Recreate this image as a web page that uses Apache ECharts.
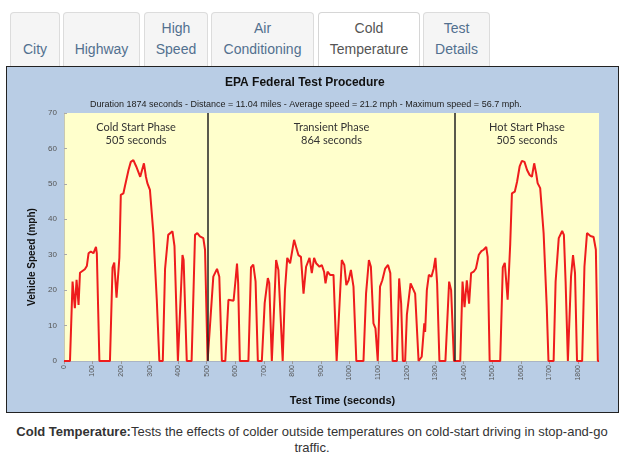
<!DOCTYPE html>
<html>
<head>
<meta charset="utf-8">
<script src="https://cdn.jsdelivr.net/npm/echarts@6/dist/echarts.min.js"></script>
<style>
  body { margin: 0; background: #fff; font-family: "Liberation Sans", Arial, sans-serif; }
  .page { position: relative; width: 624px; height: 462px; overflow: hidden; }
  .tab {
    position: absolute; top: 12px; height: 54px; box-sizing: border-box;
    border: 1px solid #dcdcdc; border-bottom: none; border-radius: 4px 4px 0 0;
    background: #f5f5f5; color: #52708f; font-size: 14px; line-height: 21px;
    text-align: center; display: flex; align-items: flex-end; justify-content: center;
    padding-bottom: 6px;
  }
  .tab.active { background: #fff; color: #555; border-color: #d6d6d6; }
  .frame {
    position: absolute; left: 6px; top: 66px; width: 611px; height: 345px;
    border: 1px solid #222;
  }
  .echarts { width: 611px; height: 345px; }
  .caption {
    position: absolute; left: 10px; top: 424px; width: 604px;
    text-align: center; font-size: 13px; line-height: 16px; color: #333;
  }
</style>
</head>
<body>
<div class="page">
  <div class="tab" style="left:10px;width:50px">City</div>
  <div class="tab" style="left:63px;width:77px">Highway</div>
  <div class="tab" style="left:144px;width:64px">High<br>Speed</div>
  <div class="tab" style="left:211px;width:103px">Air<br>Conditioning</div>
  <div class="tab active" style="left:318px;width:102px">Cold<br>Temperature</div>
  <div class="tab" style="left:423px;width:67px">Test<br>Details</div>
  <div class="frame"><div id="myChart" class="echarts"></div></div>
  <div class="caption"><b>Cold Temperature:</b>Tests the effects of colder outside temperatures on cold-start driving in stop-and-go traffic.</div>
</div>
<script>
  // [seconds, mph]
  var coldStart = [[0,0],[21,0],[30,22.4],[38,14.9],[44,22.9],[51,15.8],[56,24.9],[61,25.4],[73,25.9],[80,26.8],
    [86,30.4],[94,30.9],[103,30.4],[112,32.2],[115,30.4],[124,0],[161,0],[170,26.4],[176,27.8],[184,17.9],
    [194,29.2],[199,46.9],[208,47.3],[213,49.2],[226,53.9],[234,56.2],[243,56.7],[253,54.9],[258,53.9],[267,52],
    [272,52.5],[280,55.8],[287,52],[292,50.2],[301,48.3],[313,36.1],[325,17.3],[334,0],[346,0],[354,26],
    [365,35.6],[380,36.6],[387,32.4],[399,0],[403,0],[415,29.9],[419,28.5],[430,0],[447,0],[459,35.6],
    [467,36.1],[476,35.2],[488,34.7],[494,31.4],[503,0],[505,0]];
  var transient = [[523,23.8],[536,26],[544,23.8],[553,0],[565,0],[576,17.3],[582,17.3],[594,17],[601,23],[606,27.5],
    [610,22],[616,0],[646,0],[655,26.4],[663,27.2],[671,22.5],[679,0],[693,0],[703,16.4],[714,23.4],
    [719,22],[728,0],[743,28.5],[751,25.7],[766,0],[774,20],[782,29.1],[792,27.6],[798,27.6],[806,34.2],
    [813,32.2],[821,29.9],[830,29.4],[839,19],[848,26.6],[860,29.1],[868,24.8],[876,29.1],[883,27.6],[888,28.1],
    [895,26.6],[903,27.1],[911,25.2],[916,21.9],[923,25.2],[932,24.3],[939,24.8],[944,24.3],[955,0],[961,0],
    [973,28.5],[982,27.1],[989,21.4],[997,22.8],[1005,25.7],[1014,21],[1024,0],[1049,0],[1058,19],[1068,28.5],
    [1075,26.6],[1084,10.6],[1091,9.2],[1099,0],[1107,21],[1115,22.8],[1125,26.1],[1135,27.1],[1143,24.8],[1151,0],
    [1166,0],[1174,23.3],[1181,16.2],[1187,0],[1195,0],[1201,13],[1207,13.4],[1214,21.9],[1221,21.9],[1230,19],
    [1242,0],[1253,1.2],[1262,10.6],[1265,8.2],[1271,20],[1278,24.3],[1287,23.8],[1295,26.1],[1301,29.1],[1307,21.9],
    [1315,0],[1336,0],[1349,22.4],[1356,20],[1366,0],[1369,0]];
  var hotStart = [[1388,0],[1396,22.4],[1403,15.2],[1411,22.8],[1419,16.2],[1426,24.8],[1435,25.2],[1443,26.1],[1453,30],[1462,31],
    [1470,31.4],[1479,32.2],[1484,29.4],[1491,0],[1528,0],[1537,26.4],[1544,27.7],[1554,17.3],[1563,33],[1569,47.3],
    [1579,47.8],[1587,50.6],[1596,54.9],[1604,56.5],[1613,56.2],[1622,53.9],[1631,52.5],[1639,52],[1647,55.8],[1654,52.9],
    [1659,50.2],[1668,48.8],[1680,36.1],[1691,15.2],[1697,0],[1715,0],[1722,22.4],[1733,34.7],[1745,36.7],[1751,35.6],
    [1757,22.4],[1765,0],[1769,0],[1776,23.8],[1783,29.9],[1790,24.8],[1797,0],[1815,0],[1823,26.6],[1832,36.1],
    [1844,35.3],[1855,35],[1863,31.4],[1870,0],[1874,0]];

  var phaseBounds = [0, 505, 1369, 1874];
  var phaseNames = ['Cold Start Phase', 'Transient Phase', 'Hot Start Phase'];
  var phaseSeconds = [505, 864, 505];

  var chartTitle = 'EPA Federal Test Procedure';
  var chartSub = 'Duration 1874 seconds - Distance = 11.04 miles - Average speed = 21.2 mph - Maximum speed = 56.7 mph.';

  var myChart = echarts.init(document.getElementById('myChart'));

  var areas = phaseNames.map(function (n, i) {
    return [{ xAxis: phaseBounds[i], name: n + '\n' + phaseSeconds[i] + ' seconds' }, { xAxis: phaseBounds[i + 1] }];
  });

  var option = {
    animation: false,
    backgroundColor: '#b9cde5',
    title: [
      { text: chartTitle, left: 213, top: 5,
        textStyle: { fontFamily: 'Liberation Sans', fontSize: 12, fontWeight: 'bold', color: '#111' } },
      { text: chartSub, left: 78, top: 28,
        textStyle: { fontFamily: 'Liberation Sans', fontSize: 9, fontWeight: 'normal', color: '#222' } }
    ],
    grid: { left: 57, top: 46, right: 19, bottom: 51, show: true, backgroundColor: '#ffffcc', borderWidth: 0 },
    xAxis: {
      type: 'value', min: 0, max: 1874, interval: 100,
      name: 'Test Time (seconds)', nameLocation: 'middle', nameGap: 34,
      nameTextStyle: { fontFamily: 'Liberation Sans', fontSize: 11, fontWeight: 'bold', color: '#111', padding: [0, 0, 0, 22] },
      splitLine: { show: false },
      axisLine: { show: true, lineStyle: { color: '#aab4c4' } },
      axisTick: { show: true, length: 3, lineStyle: { color: '#999' } },
      axisLabel: { rotate: 90, fontSize: 7, color: '#555', margin: 4, showMaxLabel: false, fontFamily: 'Liberation Sans',
        formatter: function (v) { return String(v); } }
    },
    yAxis: {
      type: 'value', min: 0, max: 70, interval: 10,
      name: 'Vehicle Speed (mph)', nameLocation: 'middle', nameGap: 26,
      nameTextStyle: { fontFamily: 'Liberation Sans', fontSize: 10, fontWeight: 'bold', color: '#111', padding: [0, 40, 0, 0] },
      splitLine: { show: false },
      axisLine: { show: true, lineStyle: { color: '#c8c8b0' } },
      axisTick: { show: true, inside: true, length: 3, lineStyle: { color: '#aaa' } },
      axisLabel: { fontSize: 8, color: '#555', margin: 7, fontFamily: 'Liberation Sans' }
    },
    series: [{
      type: 'line',
      data: coldStart.concat(transient, hotStart),
      showSymbol: false,
      lineStyle: { color: '#ee1c1c', width: 2 },
      z: 3,
      markArea: {
        silent: true,
        itemStyle: { color: 'rgba(0,0,0,0)' },
        label: { position: 'insideTop', distance: 8, fontFamily: 'Lato', fontSize: 11, lineHeight: 13, color: '#333' },
        data: areas
      },
      markLine: {
        silent: true, symbol: 'none',
        label: { show: false },
        lineStyle: { color: '#222', width: 1.5, type: 'solid' },
        data: phaseBounds.slice(1, 3).map(function (b) { return { xAxis: b }; })
      }
    }]
  };
  myChart.setOption(option);
</script>
</body>
</html>
